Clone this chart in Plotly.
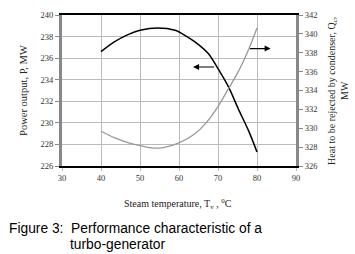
import plotly.graph_objects as go

temp_p = [40, 43.4, 46.9, 50, 54.6, 59, 61.5, 64.1, 67.5, 70, 72.7, 75.2, 77.8, 80]
power = [236.6, 237.5, 238.18, 238.58, 238.8, 238.58, 238.12, 237.5, 236.42, 235.03, 233.33, 231.3, 229.3, 227.3]
temp_q = [40, 43.4, 46.9, 50, 53, 56, 60, 64, 67, 70, 72.7, 75.2, 77.8, 80]
heat = [329.68, 329.0, 328.48, 328.15, 327.91, 327.95, 328.45, 329.4, 330.6, 332.3, 334.2, 336.0, 338.3, 340.62]
x_ticks = [30, 40, 50, 60, 70, 80, 90]
left_ticks = [226, 228, 230, 232, 234, 236, 238, 240]
right_ticks = [326, 328, 330, 332, 334, 336, 338, 340, 342]

serif = "Liberation Serif"
fig = go.Figure()
fig.add_trace(go.Scatter(x=temp_p, y=power, mode="lines", line=dict(color="black", width=1.5, shape="spline", smoothing=0.8), yaxis="y"))
fig.add_trace(go.Scatter(x=temp_q, y=heat, mode="lines", line=dict(color="#999999", width=1.3, shape="spline", smoothing=0.8), yaxis="y2"))

tf = dict(family=serif, size=8.5, color="#333")
fig.update_layout(
    width=355, height=254, showlegend=False,
    paper_bgcolor="white", plot_bgcolor="white",
    margin=dict(l=62, r=59, t=15, b=88),
    xaxis=dict(range=[30, 90], tickvals=x_ticks, showgrid=True, gridcolor="#bbbbbb", gridwidth=1,
               ticks="outside", ticklen=3, tickcolor="#bbbbbb",
               showline=True, linecolor="black", linewidth=1.5, mirror=True, zeroline=False,
               tickfont=tf, automargin=False),
    yaxis=dict(range=[226, 240], tickvals=left_ticks, showgrid=True, gridcolor="#bbbbbb",
               ticks="outside", ticklen=4, tickcolor="#888",
               showline=True, linecolor="#888888", linewidth=3, zeroline=False,
               tickfont=tf, automargin=False),
    yaxis2=dict(range=[326, 342], tickvals=right_ticks, overlaying="y", side="right", showgrid=False,
                ticks="outside", ticklen=4, tickcolor="#888",
                showline=True, linecolor="#888888", linewidth=3, zeroline=False,
                tickfont=tf, automargin=False),
)

ann = []
ann.append(dict(x=63.6, y=235.18, ax=69.4, ay=235.18, xref="x", yref="y", axref="x", ayref="y",
                showarrow=True, arrowhead=2, arrowsize=1, arrowwidth=1.2, arrowcolor="black", text=""))
ann.append(dict(x=83.5, y=338.44, ax=77.8, ay=338.44, xref="x", yref="y2", axref="x", ayref="y2",
                showarrow=True, arrowhead=2, arrowsize=1, arrowwidth=1.2, arrowcolor="black", text=""))
ann.append(dict(x=0.495, y=-0.252, xref="paper", yref="paper", xanchor="center", yanchor="middle", showarrow=False,
                text="Steam temperature, T<sub>v</sub> , <sup>0</sup>C",
                font=dict(family=serif, size=10, color="#222")))
ann.append(dict(x=-0.165, y=0.5, xref="paper", yref="paper", xanchor="center", yanchor="middle", showarrow=False, textangle=-90,
                text="Power output, P, MW", font=dict(family=serif, size=10.5, color="#222")))
ann.append(dict(x=1.177, y=0.5, xref="paper", yref="paper", xanchor="center", yanchor="middle", showarrow=False, textangle=-90,
                text="Heat to be rejected by condenser, Q<sub>c</sub>,<br>MW",
                font=dict(family=serif, size=10, color="#222")))
ann.append(dict(x=-0.233, y=-0.417, xref="paper", yref="paper", xanchor="left", yanchor="middle", showarrow=False,
                text="Figure 3:  Performance characteristic of a",
                font=dict(family="Liberation Sans", size=13.8, color="black")))
ann.append(dict(x=0.026, y=-0.523, xref="paper", yref="paper", xanchor="left", yanchor="middle", showarrow=False,
                text="turbo-generator",
                font=dict(family="Liberation Sans", size=13.8, color="black")))
fig.update_layout(annotations=ann)
fig.write_html("out.html", post_script="document.body.style.margin='0';", config={"displayModeBar": False})
